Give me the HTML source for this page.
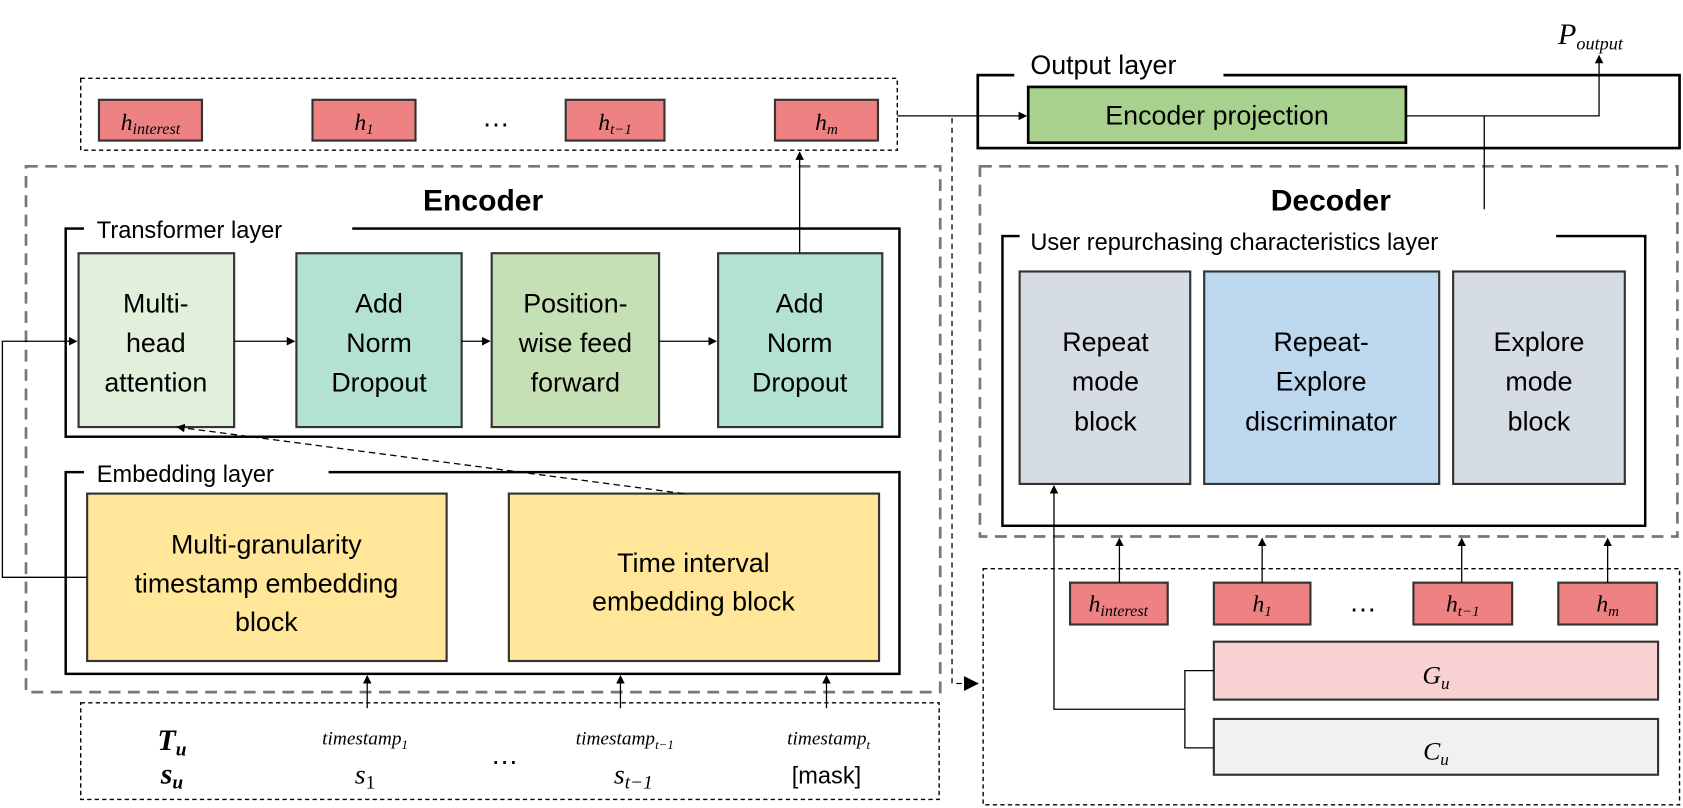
<!DOCTYPE html><html><head><style>html,body{margin:0;padding:0;background:#fff}svg{display:block}
.t{font-family:"Liberation Sans",sans-serif;font-size:25px;fill:#000}
.m{font-family:"Liberation Serif",serif;font-style:italic;fill:#000}
</style></head><body>
<svg width="1683" height="808" viewBox="0 0 1568 753" xmlns="http://www.w3.org/2000/svg">
<defs><marker id="a" markerWidth="8" markerHeight="8" refX="7" refY="4" orient="auto" markerUnits="userSpaceOnUse"><path d="M0,0L8,4L0,8z" fill="#000"/></marker>
<marker id="b" markerWidth="14" markerHeight="14" refX="13" refY="7" orient="auto" markerUnits="userSpaceOnUse"><path d="M0,0L14,7L0,14z" fill="#000"/></marker></defs>
<g fill="none">
<rect x="75" y="73" width="761" height="67" stroke="#000" stroke-width="1.3" stroke-dasharray="4,3"/>
<rect x="911" y="70" width="654" height="68" stroke="#000" stroke-width="2.5"/>
<rect x="945" y="62" width="195" height="16" fill="#fff"/>
<rect x="24" y="155" width="852" height="490" stroke="#777" stroke-width="2.5" stroke-dasharray="11,7"/>
<rect x="913" y="155" width="650" height="345" stroke="#777" stroke-width="2.5" stroke-dasharray="11,7"/>
<rect x="61" y="213" width="777" height="194" stroke="#000" stroke-width="2.3"/>
<rect x="78" y="203" width="250" height="20" fill="#fff"/>
<rect x="61" y="440" width="777" height="188" stroke="#000" stroke-width="2.3"/>
<rect x="78" y="430" width="228" height="20" fill="#fff"/>
<rect x="934" y="220" width="599" height="270" stroke="#000" stroke-width="2.3"/>
<rect x="950" y="210" width="500" height="20" fill="#fff"/>
<rect x="75" y="655" width="800" height="90" stroke="#000" stroke-width="1.3" stroke-dasharray="4,3"/>
<rect x="916" y="530" width="649" height="220" stroke="#000" stroke-width="1.3" stroke-dasharray="4,3"/>
</g>
<g stroke="#333" stroke-width="2">
<rect x="92" y="93" width="96" height="38" fill="#EE8182"/>
<rect x="291" y="93" width="96" height="38" fill="#EE8182"/>
<rect x="527" y="93" width="92" height="38" fill="#EE8182"/>
<rect x="722" y="93" width="96" height="38" fill="#EE8182"/>
<rect x="958" y="81" width="352" height="52" fill="#A9D18E" stroke="#000" stroke-width="2.5"/>
<rect x="73" y="236" width="145" height="162" fill="#E2EFDA"/>
<rect x="276" y="236" width="154" height="162" fill="#B3E2D0"/>
<rect x="458" y="236" width="156" height="162" fill="#C5E0B4"/>
<rect x="669" y="236" width="153" height="162" fill="#B3E2D0"/>
<rect x="81" y="460" width="335" height="156" fill="#FFE699"/>
<rect x="474" y="460" width="345" height="156" fill="#FFE699"/>
<rect x="950" y="253" width="159" height="198" fill="#D6DCE4"/>
<rect x="1122" y="253" width="219" height="198" fill="#BDD7EE"/>
<rect x="1354" y="253" width="160" height="198" fill="#D6DCE4"/>
<rect x="997" y="543" width="91" height="39" fill="#EE8182"/>
<rect x="1131" y="543" width="90" height="39" fill="#EE8182"/>
<rect x="1317" y="543" width="92" height="39" fill="#EE8182"/>
<rect x="1452" y="543" width="92" height="39" fill="#EE8182"/>
<rect x="1131" y="598" width="414" height="54" fill="#F8D1D3"/>
<rect x="1131" y="670" width="414" height="52" fill="#F1F1F1"/>
</g>
<g stroke="#000" stroke-width="1.2" fill="none">
<path d="M836,108H956" marker-end="url(#a)"/>
<path d="M887,110V637H911" stroke-dasharray="5,4" marker-end="url(#b)"/>
<path d="M1310,108H1490V52" marker-end="url(#a)"/>
<path d="M1383,108V195"/>
<path d="M218,318H274" marker-end="url(#a)"/>
<path d="M430,318H456" marker-end="url(#a)"/>
<path d="M614,318H667" marker-end="url(#a)"/>
<path d="M745,236V142" marker-end="url(#a)"/>
<path d="M637,460L165,398" stroke-dasharray="6,4" marker-end="url(#a)"/>
<path d="M81,538H2V318H71" marker-end="url(#a)"/>
<path d="M342,660V630" marker-end="url(#a)"/>
<path d="M578,660V630" marker-end="url(#a)"/>
<path d="M770,660V630" marker-end="url(#a)"/>
<path d="M1043,543V502" marker-end="url(#a)"/>
<path d="M1176,543V502" marker-end="url(#a)"/>
<path d="M1362,543V502" marker-end="url(#a)"/>
<path d="M1498,543V502" marker-end="url(#a)"/>
<path d="M1131,625H1104V697H1131"/>
<path d="M1104,661H982V453" marker-end="url(#a)"/>
</g>
<g class="t" text-anchor="middle">
<text x="960" y="69" text-anchor="start">Output layer</text>
<text x="1134" y="116">Encoder projection</text>
<text x="450" y="196" font-weight="bold" font-size="28">Encoder</text>
<text x="1240" y="196" font-weight="bold" font-size="28">Decoder</text>
<text x="90" y="222" text-anchor="start" font-size="22">Transformer layer</text>
<text x="90" y="449" text-anchor="start" font-size="22">Embedding layer</text>
<text x="960" y="233" text-anchor="start" font-size="22">User repurchasing characteristics layer</text>
<text x="145" y="291">Multi-</text><text x="145" y="328">head</text><text x="145" y="365">attention</text>
<text x="353" y="291">Add</text><text x="353" y="328">Norm</text><text x="353" y="365">Dropout</text>
<text x="536" y="291">Position-</text><text x="536" y="328">wise feed</text><text x="536" y="365">forward</text>
<text x="745" y="291">Add</text><text x="745" y="328">Norm</text><text x="745" y="365">Dropout</text>
<text x="248" y="516">Multi-granularity</text><text x="248" y="552">timestamp embedding</text><text x="248" y="588">block</text>
<text x="646" y="533">Time interval</text><text x="646" y="569">embedding block</text>
<text x="1030" y="327">Repeat</text><text x="1030" y="364">mode</text><text x="1030" y="401">block</text>
<text x="1231" y="327">Repeat-</text><text x="1231" y="364">Explore</text><text x="1231" y="401">discriminator</text>
<text x="1434" y="327">Explore</text><text x="1434" y="364">mode</text><text x="1434" y="401">block</text>
<text x="770" y="730" font-size="22">[mask]</text>
</g>
<g class="m" text-anchor="middle" font-size="22">
<text x="140" y="121">h<tspan font-size="15" dy="4">interest</tspan></text>
<text x="339" y="121">h<tspan font-size="14" dy="4">1</tspan></text>
<text x="573" y="121">h<tspan font-size="14" dy="4">t−1</tspan></text>
<text x="770" y="121">h<tspan font-size="14" dy="4">m</tspan></text>
<text x="1042" y="570">h<tspan font-size="15" dy="4">interest</tspan></text>
<text x="1176" y="570">h<tspan font-size="14" dy="4">1</tspan></text>
<text x="1363" y="570">h<tspan font-size="14" dy="4">t−1</tspan></text>
<text x="1498" y="570">h<tspan font-size="14" dy="4">m</tspan></text>
<text x="1338" y="637" font-size="24">G<tspan font-size="16" dy="5">u</tspan></text>
<text x="1338" y="708" font-size="24">C<tspan font-size="16" dy="5">u</tspan></text>
<text x="1482" y="41" font-size="28">P<tspan font-size="17" dy="5">output</tspan></text>
<text x="160" y="699" font-size="28" font-weight="bold">T<tspan font-size="18" dy="5">u</tspan></text>
<text x="160" y="730" font-size="28" font-weight="bold">s<tspan font-size="18" dy="5">u</tspan></text>
<text x="340" y="694" font-size="18">timestamp<tspan font-size="12" dy="4">1</tspan></text>
<text x="582" y="694" font-size="18">timestamp<tspan font-size="12" dy="4">t−1</tspan></text>
<text x="772" y="694" font-size="18">timestamp<tspan font-size="12" dy="4">t</tspan></text>
<text x="340" y="730" font-size="26">s<tspan font-size="18" dy="5" font-style="normal">1</tspan></text>
<text x="590" y="730" font-size="26">s<tspan font-size="18" dy="5">t−1</tspan></text>
</g>
<g font-family="Liberation Sans,sans-serif" font-size="26" text-anchor="middle">
<text x="462" y="118">…</text><text x="1270" y="570">…</text><text x="470" y="712">…</text>
</g>
</svg></body></html>
